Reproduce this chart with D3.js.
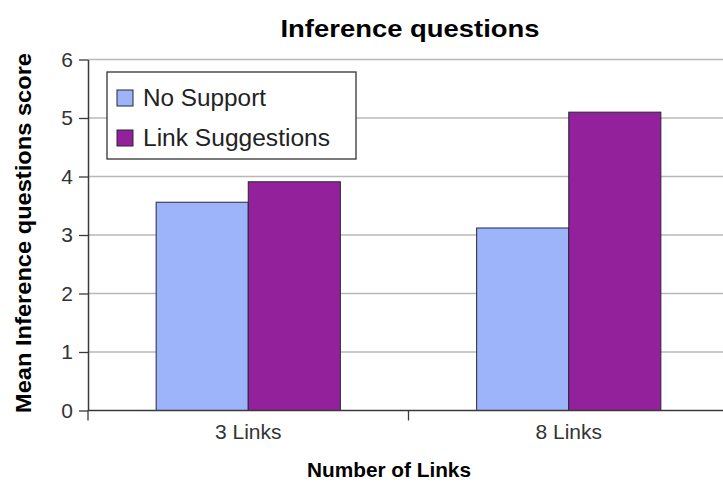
<!DOCTYPE html>
<html>
<head>
<meta charset="utf-8">
<script src="https://cdn.jsdelivr.net/npm/d3@7"></script>
<style>
  body { margin: 0; background: #fff; }
  text { font-family: "Liberation Sans", Arial, sans-serif; }
</style>
</head>
<body>
<div id="chart"></div>
<script>
// Data
const categories = ["3 Links", "8 Links"];
const series = ["No Support", "Link Suggestions"];
const noSupport = [3.56, 3.12];
const linkSuggestions = [3.91, 5.10];
const yTicks = [0, 1, 2, 3, 4, 5, 6];

const colors = ["#9db4fb", "#93219b"];

const W = 723, H = 482;
const plotLeft = 88, plotTop = 59.5, plotBottom = 410.5, plotRight = 729;

const data = [];
categories.forEach((c, i) => {
    data.push({ cat: c, series: series[0], value: noSupport[i] });
    data.push({ cat: c, series: series[1], value: linkSuggestions[i] });
});

const svg = d3.select("#chart").append("svg")
    .attr("width", W)
    .attr("height", H);

// scales
const x0 = d3.scaleBand()
    .domain(categories)
    .range([plotLeft, plotRight])
    .padding(0);

const x1 = d3.scaleBand()
    .domain(series)
    .range([0, x0.bandwidth()])
    .paddingInner(0)
    .paddingOuter(0.74);

const y = d3.scaleLinear()
    .domain([0, 6])
    .range([plotBottom, plotTop]);

const color = d3.scaleOrdinal()
    .domain(series)
    .range(colors);

// gridlines
svg.append("g")
    .selectAll("line")
    .data(yTicks.filter(d => d > 0))
    .enter().append("line")
    .attr("x1", plotLeft)
    .attr("x2", W)
    .attr("y1", d => y(d))
    .attr("y2", d => y(d))
    .attr("stroke", "#b8b8b8")
    .attr("stroke-width", 1.6);

// bars
svg.append("g")
    .selectAll("rect")
    .data(data)
    .enter().append("rect")
    .attr("x", d => x0(d.cat) + x1(d.series))
    .attr("y", d => y(d.value))
    .attr("width", x1.bandwidth())
    .attr("height", d => y(0) - y(d.value))
    .attr("fill", d => color(d.series))
    .attr("stroke", "#262638")
    .attr("stroke-width", 1);

// y axis
const yAxis = svg.append("g")
    .attr("transform", "translate(" + plotLeft + ",0)")
    .call(d3.axisLeft(y).tickValues(yTicks).tickFormat(d3.format("d"))
        .tickSize(9).tickSizeOuter(0).tickPadding(6));
yAxis.select(".domain").attr("stroke", "#3a3a3a").attr("stroke-width", 1.5);
yAxis.selectAll(".tick line").attr("stroke", "#3a3a3a").attr("stroke-width", 1.3);
yAxis.selectAll(".tick text")
    .style("font-size", "21px")
    .attr("fill", "#333");

// x axis: labels at category centres, ticks at category boundaries
const xAxis = svg.append("g")
    .attr("transform", "translate(0," + plotBottom + ")")
    .call(d3.axisBottom(x0).tickSize(0).tickPadding(14).tickSizeOuter(0));
xAxis.select(".domain").remove();
xAxis.selectAll(".tick text")
    .style("font-size", "21px")
    .attr("fill", "#333");

svg.append("line")
    .attr("x1", plotLeft)
    .attr("x2", W)
    .attr("y1", plotBottom)
    .attr("y2", plotBottom)
    .attr("stroke", "#3a3a3a")
    .attr("stroke-width", 1.5);

svg.append("g")
    .selectAll("line")
    .data(categories)
    .enter().append("line")
    .attr("x1", d => x0(d))
    .attr("x2", d => x0(d))
    .attr("y1", plotBottom)
    .attr("y2", plotBottom + 10)
    .attr("stroke", "#3a3a3a")
    .attr("stroke-width", 1.3);

// title
svg.append("text")
    .attr("x", 410)
    .attr("y", 37)
    .attr("text-anchor", "middle")
    .attr("font-weight", "bold")
    .attr("textLength", 259)
    .attr("lengthAdjust", "spacingAndGlyphs")
    .style("font-size", "24px")
    .text("Inference questions");

// axis titles
svg.append("text")
    .attr("transform", "translate(31,233) rotate(-90)")
    .attr("text-anchor", "middle")
    .attr("font-weight", "bold")
    .attr("textLength", 360)
    .attr("lengthAdjust", "spacingAndGlyphs")
    .style("font-size", "22px")
    .text("Mean Inference questions score");

svg.append("text")
    .attr("x", 389)
    .attr("y", 477)
    .attr("text-anchor", "middle")
    .attr("font-weight", "bold")
    .attr("textLength", 164)
    .attr("lengthAdjust", "spacingAndGlyphs")
    .style("font-size", "21px")
    .text("Number of Links");

// legend
const legend = svg.append("g")
    .attr("transform", "translate(107,72)");

legend.append("rect")
    .attr("width", 249)
    .attr("height", 87)
    .attr("fill", "#fff")
    .attr("stroke", "#333")
    .attr("stroke-width", 1.3);

const legendWidths = [123, 187];
series.forEach((s, i) => {
    legend.append("rect")
        .attr("x", 10)
        .attr("y", 18 + i * 40)
        .attr("width", 16)
        .attr("height", 16)
        .attr("fill", color(s))
        .attr("stroke", "#262638")
        .attr("stroke-width", 1);

    legend.append("text")
        .attr("x", 36)
        .attr("y", 34 + i * 40)
        .attr("textLength", legendWidths[i])
        .attr("lengthAdjust", "spacingAndGlyphs")
        .style("font-size", "23px")
        .attr("fill", "#222")
        .text(s);
});
</script>
</body>
</html>
